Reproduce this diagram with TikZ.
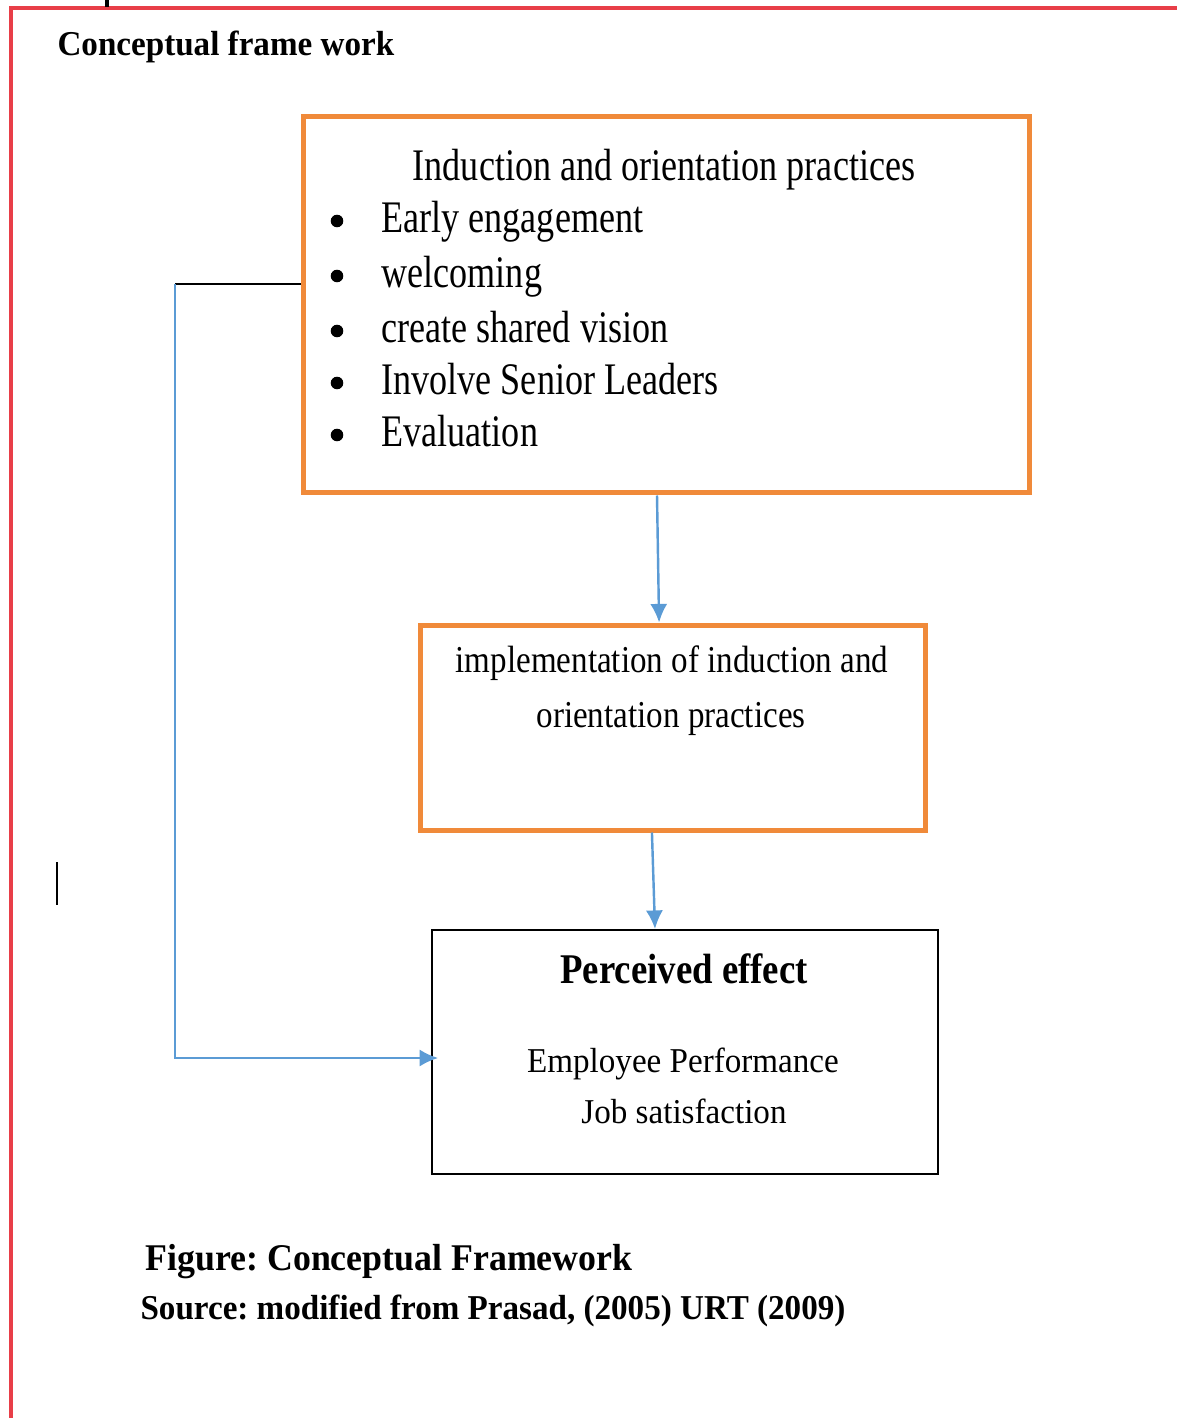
\documentclass[tikz,border=0pt]{standalone}
\usepackage{fontspec}
\setmainfont{Liberation Serif}
\newfontfamily\boxfont[FakeStretch=0.8]{Liberation Serif}
\newfontfamily\midfont[FakeStretch=0.87]{Liberation Serif}
\newfontfamily\capfont[FakeStretch=0.95]{Liberation Serif}
\usetikzlibrary{arrows.meta}
\definecolor{framered}{RGB}{232,62,72}
\definecolor{boxorange}{RGB}{240,138,58}
\definecolor{flowblue}{RGB}{91,155,213}
\frenchspacing
\tikzset{
	orangebox/.style={draw=boxorange,line width=1.75pt,inner sep=0pt},
	effectbox/.style={draw=black,line width=0.7pt,inner sep=0pt},
	flow/.style={draw=flowblue,line width=0.85pt,-{Latex[length=6.5pt,width=6pt]}},
	txt/.style={inner sep=0pt,anchor=base}
}

\begin{document}
\begin{tikzpicture}[x=0.35pt,y=-0.35pt]
	\useasboundingbox (0,0) rectangle (1177,1418);
	\draw[framered,line width=1.1pt] (11,1418) -- (11,8) -- (1177,8);
	\draw[line width=1.4pt] (107,0) -- (107,7);
	\draw[line width=0.8pt] (57,862) -- (57,905);
	\node[txt,anchor=base west,font=\capfont\bfseries\fontsize{12.2}{14}\selectfont] (title) at (57,56) {Conceptual frame work};

	\node[orangebox,minimum width=254.1pt,minimum height=131.6pt] (induct) at (666,305) {};
	\node[txt,font=\boxfont\fontsize{15.8}{19}\selectfont] (inducthead) at (664,181) {Induction and orientation practices};
	\foreach \y/\item in {233/Early engagement,288/welcoming,343/create shared vision,395/Involve Senior Leaders,447/Evaluation}{
		\fill (337,\y-12) circle (2.2pt);
		\node[txt,anchor=base west,font=\boxfont\fontsize{15.8}{19}\selectfont] (item\y) at (381,\y) {\item};
	}

	\node[orangebox,minimum width=176.75pt,minimum height=71.75pt] (impl) at (672.5,727.5) {};
	\node[txt,font=\midfont\fontsize{13.3}{16}\selectfont] (impl1) at (672,672) {implementation of induction and};
	\node[txt,font=\midfont\fontsize{13.3}{16}\selectfont] (impl2) at (671,727) {orientation practices};

	\node[effectbox,minimum width=177.1pt,minimum height=85.4pt] (effect) at (685,1052) {};
	\node[txt,font=\midfont\bfseries\fontsize{14.8}{17}\selectfont] (effecthead) at (684,983) {Perceived effect};
	\node[txt,font=\capfont\fontsize{12.2}{14}\selectfont] (perf) at (683,1072) {Employee Performance};
	\node[txt,font=\capfont\fontsize{12.2}{14}\selectfont] (satis) at (684,1123) {Job satisfaction};

	\draw[flow] ([xshift=-3.15pt]induct.south) -- ([xshift=-4.7pt]impl.north);
	\draw[flow] ([xshift=-7.2pt]impl.south) -- ([xshift=-10.5pt]effect.north);
	\coordinate (turn) at (175,284);
	\draw[line width=0.8pt] (induct.west |- turn) -- (turn);
	\draw[flow] (turn) |- ([yshift=-2.1pt,xshift=2.5pt]effect.west);

	\node[txt,anchor=base west,font=\capfont\bfseries\fontsize{13.2}{16}\selectfont] (figcap) at (145,1270) {Figure: Conceptual Framework};
	\node[txt,anchor=base west,font=\capfont\bfseries\fontsize{12.2}{14}\selectfont] (source) at (140,1319) {Source: modified from Prasad, (2005) URT (2009)};
\end{tikzpicture}
\end{document}
